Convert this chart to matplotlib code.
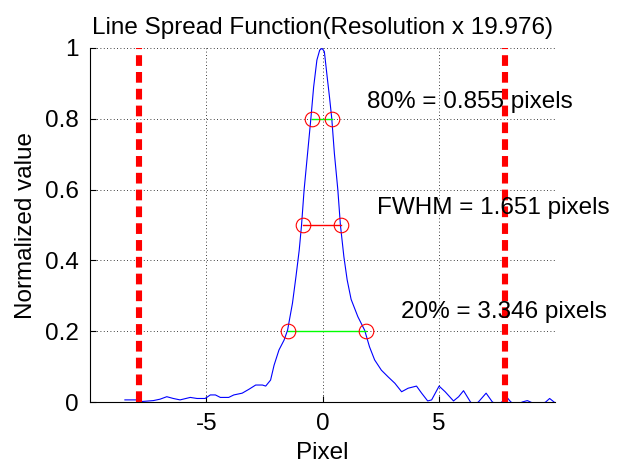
import matplotlib
matplotlib.use("Agg")
import matplotlib.pyplot as plt
import numpy as np

# LSF curve samples (pixel, normalized value)
lsf_x = [-8.50, -8.00, -7.86, -7.28, -6.99, -6.70, -6.42, -6.13, -5.69, -5.40, -5.05,
         -4.83, -4.61, -4.40, -4.04, -3.82, -3.46, -3.17, -2.88, -2.59, -2.45, -2.24,
         -2.09, -1.88, -1.66, -1.51, -1.30, -1.15, -1.01, -0.91, -0.80, -0.65, -0.51,
         -0.39, -0.25, -0.13, -0.03, 0.07, 0.19, 0.29, 0.39, 0.50, 0.65, 0.76, 0.91,
         1.05, 1.22, 1.51, 1.80, 2.01, 2.23, 2.52, 2.81, 3.10, 3.39, 3.67, 4.03, 4.25,
         4.51, 4.68, 5.00, 5.26, 5.62, 5.84, 6.05, 6.34, 6.50, 6.70, 7.02, 7.28, 7.50,
         7.71, 7.92, 8.07, 8.30, 8.57, 8.79, 8.93, 9.25, 9.58, 9.75, 9.94]
lsf_y = [0.006, 0.006, 0.001, 0.004, 0.008, 0.015, 0.010, 0.006, 0.013, 0.010, 0.010,
         0.020, 0.020, 0.013, 0.013, 0.020, 0.025, 0.036, 0.048, 0.048, 0.045, 0.062,
         0.104, 0.147, 0.175, 0.203, 0.279, 0.354, 0.429, 0.500, 0.599, 0.703, 0.800,
         0.890, 0.966, 0.994, 0.999, 0.990, 0.919, 0.862, 0.800, 0.703, 0.599, 0.500, 0.410,
         0.345, 0.290, 0.241, 0.203, 0.156, 0.119, 0.090, 0.071, 0.053, 0.029, 0.039, 0.045, 0.025,
         0.003, 0.006, 0.045, 0.029, 0.003, 0.015, 0.032, 0.001, -0.010, 0.001, 0.025, 0.001, -0.010,
         0.001, 0.013, 0.001, -0.010, 0.000, 0.004, 0.000, -0.010, 0.000, 0.010, 0.000]

# width markers
lvl80_x = [-0.455, 0.40]
lvl50_x = [-0.84, 0.795]
lvl20_x = [-1.486, 1.861]
levels = [0.8, 0.5, 0.2]

# boundary lines
bound_x = [-7.89, 7.83]

labels = ["80% = 0.855 pixels", "FWHM = 1.651 pixels", "20% = 3.346 pixels"]
label_x = [1.92, 2.35, 3.37]
label_y = [0.848, 0.548, 0.254]

xticks = [-5, 0, 5]
yticks = [0, 0.2, 0.4, 0.6, 0.8, 1]
ytick_labels = ["0", "0.2", "0.4", "0.6", "0.8", "1"]

plt.rcParams['font.family'] = ['Liberation Sans', 'DejaVu Sans']
FS = 17.5

fig = plt.figure(figsize=(6.18, 4.66), dpi=100)
ax = fig.add_axes([0.1456, 0.1373, 0.7532, 0.7597])

ax.plot(lsf_x, lsf_y, color='#0000ff', lw=0.8, zorder=3)

for bx in bound_x:
    ax.plot([bx, bx], [0, 1], color='#ff0000', lw=4.4, linestyle=(0, (1.75, 1.0)),
            dash_capstyle='butt', zorder=4)

ax.plot(lvl80_x, [levels[0]] * 2, color='#00ff00', lw=1.0, zorder=3)
ax.plot(lvl50_x, [levels[1]] * 2, color='#ff0000', lw=1.0, zorder=3)
ax.plot(lvl20_x, [levels[2]] * 2, color='#00ff00', lw=1.0, zorder=3)
for xs, lv in zip([lvl80_x, lvl50_x, lvl20_x], levels):
    ax.plot(xs, [lv] * 2, linestyle='none', marker='o', markersize=10.5,
            markerfacecolor='none', markeredgecolor='#ff0000', markeredgewidth=0.8, zorder=5)

for t, tx, ty in zip(labels, label_x, label_y):
    ax.text(tx, ty, t, fontsize=FS, ha='left', va='center', zorder=6)

ax.set_xlim(-10, 10)
ax.set_ylim(0, 1)
ax.set_xticks(xticks)
ax.set_xticklabels([str(v) for v in xticks])
ax.set_yticks(yticks)
ax.set_yticklabels(ytick_labels)
ax.tick_params(direction='in', length=4, width=0.8, labelsize=FS, pad=8)
ax.spines['top'].set_visible(False)
ax.spines['right'].set_visible(False)
ax.grid(True, linestyle=(0, (1, 3)), color='black', lw=0.6)
ax.set_axisbelow(True)

ax.set_title("Line Spread Function(Resolution x 19.976)", fontsize=FS, pad=10)
ax.set_xlabel("Pixel", fontsize=FS, labelpad=5)
ax.set_ylabel("Normalized value", fontsize=FS, labelpad=6)

fig.savefig("out.png", dpi=100)
